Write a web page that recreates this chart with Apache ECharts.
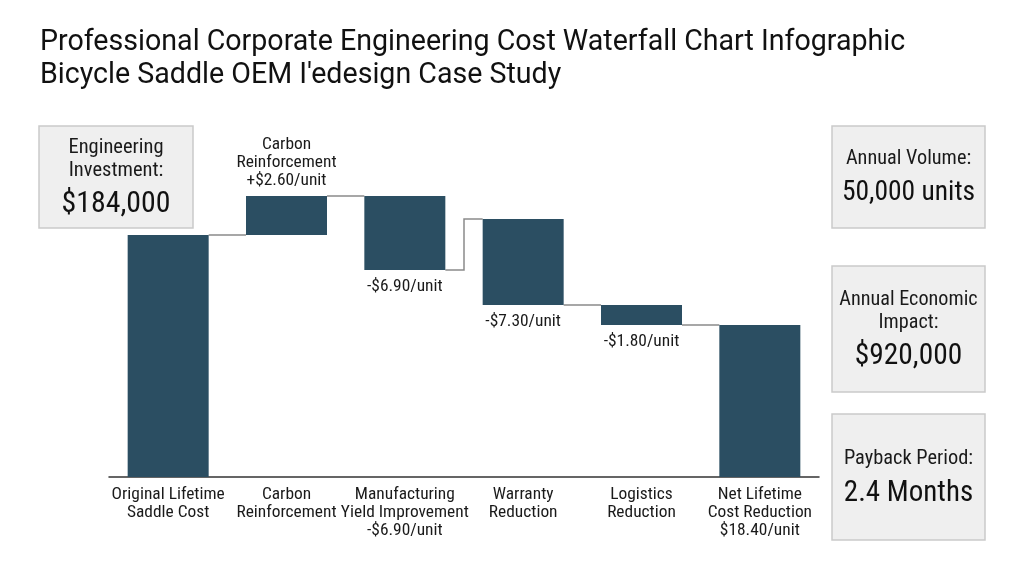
<!DOCTYPE html>
<html>
<head>
<meta charset="utf-8">
<script src="https://cdn.jsdelivr.net/npm/echarts@6/dist/echarts.min.js"></script>
<style>
  html, body { margin: 0; padding: 0; background: #fff; }
  #chart { width: 1024px; height: 572px; }
</style>
</head>
<body>
<div id="chart"></div>
<script>
// waterfall steps (chart units)
const categories = [
    "Original Lifetime\nSaddle Cost",
    "Carbon\nReinforcement",
    "Manufacturing\nYield Improvement\n-$6.90/unit",
    "Warranty\nReduction",
    "Logistics\nReduction",
    "Net Lifetime\nCost Reduction\n$18.40/unit",
];
const barLow = [0, 24.2, 20.7, 17.2, 15.2, 0];
const barHigh = [24.2, 28.1, 28.1, 25.8, 17.2, 15.2];
const stepKind = ["total", "up", "down", "down", "down", "total"];
const stepLabels = ["", "Carbon\nReinforcement\n+$2.60/unit", "-$6.90/unit", "-$7.30/unit", "-$1.80/unit", ""];

// side panels
const leftPanel = { lines: ["Engineering", "Investment:"], value: "$184,000" };
const rightPanels = [
    { lines: ["Annual Volume:"], value: "50,000 units" },
    { lines: ["Annual Economic", "Impact:"], value: "$920,000" },
    { lines: ["Payback Period:"], value: "2.4 Months" },
];
const titleLines = [
    "Professional Corporate Engineering Cost Waterfall Chart Infographic",
    "Bicycle Saddle OEM I\u2032edesign Case Study",
];

const NARROW = "'Roboto Condensed', 'Liberation Sans Narrow', 'DejaVu Sans Condensed', Roboto, sans-serif";
const BAR = "#2b4e62";

const chart = echarts.init(document.getElementById("chart"), null, { renderer: "canvas" });

// box: [x, y, w, h], lineYs: centre of each small line, valueY: centre of the big line
function panel(box, p, small, big, lineYs, valueY) {
    const [x, y, w, h] = box;
    const kids = [{
        type: "rect",
        shape: { x: x, y: y, width: w, height: h },
        style: { fill: "#efefef", stroke: "#cacaca", lineWidth: 1.5 },
    }];
    p.lines.forEach((t, i) => {
        kids.push({
            type: "text",
            style: { text: t, x: x + w / 2, y: lineYs[i], align: "center", verticalAlign: "middle",
                font: small + "px " + NARROW, fill: "#1a1a1a" },
        });
    });
    kids.push({
        type: "text",
        style: { text: p.value, x: x + w / 2, y: valueY, align: "center", verticalAlign: "middle",
            font: big + "px " + NARROW, fill: "#111" },
    });
    return kids;
}

const graphics = [];
titleLines.forEach((t, i) => {
    graphics.push({
        type: "text",
        style: { text: t, x: 40, y: 43 + i * 33, verticalAlign: "middle",
            font: "28.6px Roboto, sans-serif", fill: "#111" },
    });
});
graphics.push(...panel([39, 126, 154, 102], leftPanel, 20.5, 29.8, [148, 171], 205));
graphics.push(...panel([832, 126, 153, 102], rightPanels[0], 20.3, 27.5, [159], 193));
graphics.push(...panel([832, 266, 153, 126], rightPanels[1], 20.2, 29.4, [300, 323], 357));
graphics.push(...panel([832, 414, 153, 126], rightPanels[2], 20.4, 29, [459], 494));

function endLevel(i) {
    return stepKind[i] === "down" ? barLow[i] : barHigh[i];
}
function startLevel(i) {
    return stepKind[i] === "up" ? barLow[i] : barHigh[i];
}

const option = {
    backgroundColor: "#fff",
    animation: false,
    grid: { left: 109, right: 205, top: 177, bottom: 95 },
    xAxis: {
        type: "category",
        data: categories,
        axisTick: { show: false },
        axisLine: { lineStyle: { color: "#333", width: 1.5 } },
        axisLabel: { interval: 0, margin: 9, fontSize: 17.4, lineHeight: 18, color: "#1a1a1a", fontFamily: NARROW },
    },
    yAxis: { type: "value", min: 0, max: 30, show: false, splitLine: { show: false } },
    graphic: graphics,
    series: [
        {
            type: "bar",
            stack: "w",
            barWidth: 81,
            itemStyle: { color: "transparent" },
            silent: true,
            data: barLow,
        },
        {
            type: "bar",
            stack: "w",
            barWidth: 81,
            itemStyle: { color: BAR },
            data: barHigh.map((h, i) => ({
                value: +(h - barLow[i]).toFixed(2),
                label: {
                    show: stepLabels[i] !== "",
                    position: stepKind[i] === "down" ? "bottom" : "top",
                    formatter: stepLabels[i],
                    distance: stepKind[i] === "down" ? 8 : 6,
                    fontSize: 17.4,
                    lineHeight: 18,
                    color: "#1a1a1a",
                    fontFamily: NARROW,
                },
            })),
        },
        {
            // connectors between consecutive steps, stepping in the middle of the gap
            type: "custom",
            silent: true,
            z: 1,
            data: categories.slice(0, -1).map((c, i) => i),
            renderItem: function (params, api) {
                const i = api.value(0);
                const a = api.coord([i, endLevel(i)]);
                const b = api.coord([i + 1, startLevel(i + 1)]);
                const half = api.size([1, 0])[0] / 2;
                const x0 = a[0] + 40.5, x1 = b[0] - 40.5, xm = a[0] + half;
                const pts = [[x0, a[1]], [xm, a[1]], [xm, b[1]], [x1, b[1]]];
                return {
                    type: "polyline",
                    shape: { points: pts },
                    style: { stroke: "#8a8a8a", lineWidth: 1.5, fill: null },
                };
            },
        },
    ],
};
chart.setOption(option);
</script>
</body>
</html>
